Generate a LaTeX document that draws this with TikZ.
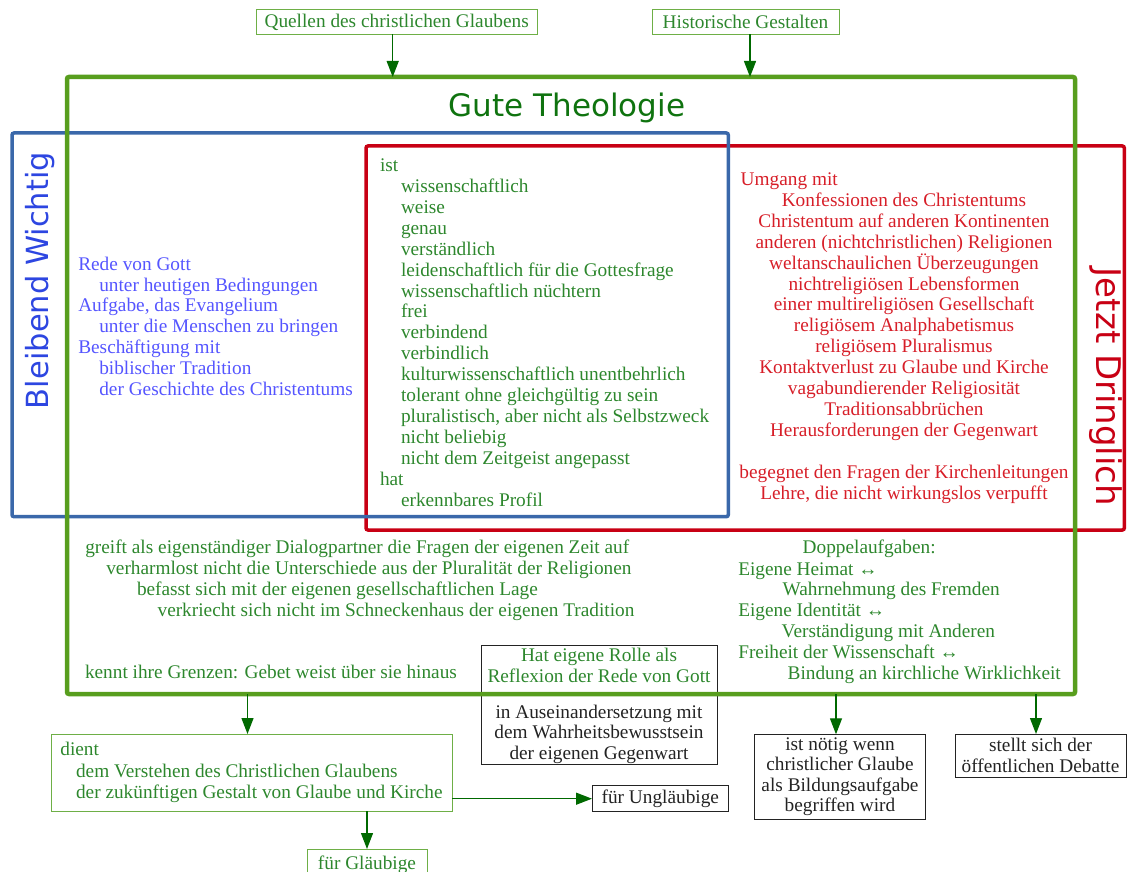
\documentclass[tikz,border=0pt]{standalone}
\usepackage{fontspec}
\setmainfont{Liberation Serif}
\newfontfamily\handfont{DejaVu Sans}
\usetikzlibrary{arrows.meta}
\definecolor{frameg}{RGB}{88,158,30}
\definecolor{txtg}{RGB}{45,135,45}
\definecolor{darkg}{RGB}{0,105,0}
\definecolor{boxg}{RGB}{110,175,70}
\definecolor{titleg}{RGB}{15,115,15}
\definecolor{frameb}{RGB}{58,104,170}
\definecolor{txtb}{RGB}{85,85,255}
\definecolor{titleb}{RGB}{45,70,225}
\definecolor{framer}{RGB}{200,0,20}
\definecolor{txtr}{RGB}{215,30,40}
\definecolor{txtk}{RGB}{35,35,35}
\newcommand{\fs}{\fontsize{19.3}{20.9}\selectfont}
\newcommand{\myind}{\hspace*{21pt}}
\begin{document}
\begin{tikzpicture}[x=1pt,y=-1pt,
  txt/.style={inner sep=0pt, outer sep=0pt, anchor=base west, align=left, font=\fs},
  ctxt/.style={inner sep=0pt, outer sep=0pt, anchor=base, align=center, font=\fs},
  frame/.style={draw, inner sep=0pt, outer sep=0pt, anchor=north west, rounded corners=2pt},
  gbox/.style={draw=boxg, line width=1pt, inner sep=0pt, outer sep=0pt, anchor=north west, font=\fs, text=txtg, align=center},
  kbox/.style={draw=txtk, line width=1pt, inner sep=0pt, outer sep=0pt, anchor=north west, font=\fs, text=txtk, align=center},
  arr/.style={draw=darkg, line width=1.3pt, -{Triangle[width=12pt,length=16pt]}},
  hand/.style={inner sep=0pt, font=\handfont\fontsize{31}{32}\selectfont}
]
\useasboundingbox (0,0) rectangle (1127,872);
\clip (0,0) rectangle (1127,872);

% frames
\node[frame, draw=framer, line width=3.5pt, minimum width=758.3pt, minimum height=384pt] (red) at (366,146) {};
\node[frame, draw=frameb, line width=3.5pt, minimum width=716.3pt, minimum height=383.7pt] (blue) at (12,133) {};
\node[kbox, minimum width=236pt, minimum height=119pt] (rolle) at (481,645) {};
\node[frame, draw=frameg, line width=4.5pt, minimum width=1008pt, minimum height=617pt] (gt) at (67,77) {};

% titles (base anchor = last line baseline)
\node[hand, text=titleg, anchor=base] (title) at (567,116.7) {Gute Theologie};
\node[hand, text=titleb, rotate=90, anchor=center, font=\handfont\fontsize{30.5}{31}\selectfont] (bw) at (40,280.5) {Bleibend Wichtig};
\node[hand, text=framer, rotate=-90, anchor=center, font=\handfont\fontsize{34}{35}\selectfont] (jd) at (1106,387) {Jetzt Dringlich};

% top boxes
\node[gbox, minimum width=281.4pt, minimum height=24.3pt] (q) at (256,10) {Quellen des christlichen Glaubens};
\node[gbox, minimum width=187pt, minimum height=24.3pt] (h) at (652,10) {Historische Gestalten};

% blue text (positioned at baseline of last line)
\node[txt, text=txtb] (bl) at (78.3,395.5) {Rede von Gott\\
\myind unter heutigen Bedingungen\\
Aufgabe, das Evangelium\\
\myind unter die Menschen zu bringen\\
Beschäftigung mit\\
\myind biblischer Tradition\\
\myind der Geschichte des Christentums};

% green middle text
\node[txt, text=txtg] (gl) at (380,506) {ist\\
\myind wissenschaftlich\\
\myind weise\\
\myind genau\\
\myind verständlich\\
\myind leidenschaftlich für die Gottesfrage\\
\myind wissenschaftlich nüchtern\\
\myind frei\\
\myind verbindend\\
\myind verbindlich\\
\myind kulturwissenschaftlich unentbehrlich\\
\myind tolerant ohne gleichgültig zu sein\\
\myind pluralistisch, aber nicht als Selbstzweck\\
\myind nicht beliebig\\
\myind nicht dem Zeitgeist angepasst\\
hat\\
\myind erkennbares Profil};

% red text
\node[txt, text=txtr] (um) at (740.7,185) {Umgang mit};
\node[ctxt, text=txtr] (rc) at (904,499) {Konfessionen des Christentums\\
Christentum auf anderen Kontinenten\\
anderen (nichtchristlichen) Religionen\\
weltanschaulichen Überzeugungen\\
nichtreligiösen Lebensformen\\
einer multireligiösen Gesellschaft\\
religiösem Analphabetismus\\
religiösem Pluralismus\\
Kontaktverlust zu Glaube und Kirche\\
vagabundierender Religiosität\\
Traditionsabbrüchen\\
Herausforderungen der Gegenwart\\[20.9pt]
begegnet den Fragen der Kirchenleitungen\\
Lehre, die nicht wirkungslos verpufft};

% bottom-left green text
\node[txt, text=txtg] (gb) at (85.3,616.5) {greift als eigenständiger Dialogpartner die Fragen der eigenen Zeit auf\\
\hspace*{21pt}verharmlost nicht die Unterschiede aus der Pluralität der Religionen\\
\hspace*{51.7pt}befasst sich mit der eigenen gesellschaftlichen Lage\\
\hspace*{72.3pt}verkriecht sich nicht im Schneckenhaus der eigenen Tradition};
\node[txt, text=txtg] (gk) at (85,678) {kennt ihre Grenzen: Gebet weist über sie hinaus};

% Doppelaufgaben
\node[txt, text=txtg] (dp) at (802.7,553.3) {Doppelaufgaben:};
\node[txt, text=txtg] (dl) at (738.3,679.5) {Eigene Heimat ↔\\
\hspace*{44.4pt}Wahrnehmung des Fremden\\
Eigene Identität ↔\\
\hspace*{43.4pt}Verständigung mit Anderen\\
Freiheit der Wissenschaft ↔\\
\hspace*{49.4pt}Bindung an kirchliche Wirklichkeit};

% Rolle box text
\node[ctxt, text=txtg] (r1) at (599,682.6) {Hat eigene Rolle als\\Reflexion der Rede von Gott};
\node[ctxt, text=txtk, font=\fontsize{19.3}{20.5}\selectfont] (r2) at (599,759) {in Auseinandersetzung mit\\dem Wahrheitsbewusstsein\\der eigenen Gegenwart};

% bottom boxes
\node[gbox, minimum width=401pt, minimum height=77pt, align=left, font=\fontsize{19.3}{21.3}\selectfont] (dient) at (51,734) {dient\\
\hspace*{15.7pt}dem Verstehen des Christlichen Glaubens\\
\hspace*{15.7pt}der zukünftigen Gestalt von Glaube und Kirche};
\node[kbox, minimum width=136.6pt, minimum height=26pt] (ungl) at (592,785.7) {für Ungläubige};
\node[gbox, minimum width=120pt, minimum height=31pt] (glaeub) at (307,849) {für Gläubige};
\node[kbox, minimum width=171.4pt, minimum height=84.7pt, font=\fontsize{19.3}{20.4}\selectfont] (noetig) at (754.3,734.3) {ist nötig wenn\\christlicher Glaube\\als Bildungsaufgabe\\begriffen wird};
\node[kbox, minimum width=171pt, minimum height=43.3pt, font=\fontsize{19.3}{20.9}\selectfont] (stellt) at (955,734) {stellt sich der\\öffentlichen Debatte};

% arrows
\draw[arr] ([xshift=-4pt]q.south) -- ([xshift=-4pt]q.south |- gt.north);
\draw[arr] ([xshift=4.5pt]h.south) -- ([xshift=4.5pt]h.south |- gt.north);
\draw[arr] ([xshift=-4pt]dient.north |- gt.south) -- ([xshift=-4pt]dient.north);
\draw[arr] ([xshift=-4pt]noetig.north |- gt.south) -- ([xshift=-4pt]noetig.north);
\draw[arr] ([xshift=-4.5pt]stellt.north |- gt.south) -- ([xshift=-4.5pt]stellt.north);
\draw[arr] (ungl.west -| dient.east) -- (ungl.west);
\draw[arr] (glaeub.north |- dient.south) -- (glaeub.north);
\end{tikzpicture}
\end{document}
